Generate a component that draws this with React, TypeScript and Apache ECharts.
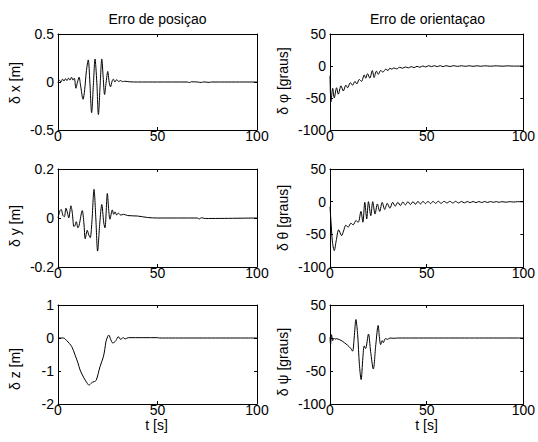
import React, { useEffect, useRef } from "react";
import * as echarts from "echarts";

// ---- data (t [s], value) ----
const dxData = [
  [0, -0.01], [0.7, 0.02], [1.5, 0.0], [2.3, 0.03], [3, 0.01], [3.8, 0.035], [4.5, 0.015], [5.3, 0.04],
  [6, 0.02], [6.8, 0.05], [7.5, 0.02], [8.2, 0.04], [9, -0.065], [9.8, 0.0], [10.6, 0.05], [11.3, -0.03],
  [12.6, -0.18], [13.4, -0.08], [14.3, 0.12], [15.2, 0.23], [16.0, 0.0], [16.9, -0.32], [17.8, -0.02],
  [18.6, 0.24], [19.5, 0.0], [20.3, -0.34], [21.2, -0.02], [22, 0.24], [22.7, 0.05], [23.4, -0.13],
  [24.2, 0.0], [25, 0.11], [25.7, 0.0], [26.4, -0.05], [27.2, 0.01], [27.8, 0.03], [28.6, 0.0],
  [29.5, 0.025], [30.5, 0.005], [31.5, 0.015], [32.5, 0.003], [33.5, 0.008], [36, 0.002], [40, 0.0],
  [50, 0.0], [65, 0.0], [66, -0.006], [67, 0.002], [70, 0.0], [72, -0.005], [73, 0.001], [76, -0.004],
  [77, 0.0], [100, 0.0],
];

const dyData = [
  [0, 0], [1, 0.03], [1.6, 0.035], [2.5, 0.01], [3.2, 0.005], [4, 0.04], [4.8, 0.02], [5.4, 0.0],
  [6.5, 0.05], [7.2, 0.02], [8, -0.035], [8.6, -0.03], [9.2, -0.015], [10, -0.04], [10.6, -0.03],
  [12.2, 0.03], [13, -0.02], [13.7, -0.085], [14.7, -0.05], [15.5, -0.07], [16.2, -0.08], [17, -0.02],
  [18.1, 0.117], [19, 0.0], [19.9, -0.135], [21, -0.02], [22, 0.055], [23, -0.02], [23.6, -0.04],
  [24.8, 0.1], [25.5, 0.03], [26.1, -0.005], [27.3, 0.033], [28, 0.015], [28.7, 0.025], [29.5, 0.012],
  [30.3, 0.02], [31.5, 0.012], [33, 0.015], [35, 0.01], [40, 0.008], [45, 0.002], [50, 0.0], [70, 0.0],
  [71, -0.004], [72, 0.001], [74, -0.002], [100, 0],
];

const dzData = [
  [0, 0], [2.7, 0], [4.4, -0.08], [6.9, -0.26], [8.6, -0.52], [10, -0.75], [11.1, -0.97], [12.5, -1.15],
  [13.6, -1.27], [14.8, -1.38], [15.6, -1.43], [16.5, -1.38], [17.3, -1.34], [18.3, -1.32], [19.2, -1.28],
  [20.2, -1.08], [21.1, -0.87], [22.8, -0.57], [23.5, -0.35], [24.1, -0.11], [25, 0.05], [25.5, 0.09],
  [26.6, -0.06], [27.5, -0.15], [28.3, -0.13], [29.1, -0.08], [30.3, 0.04], [31.5, -0.04], [32.8, 0.01],
  [33.7, -0.03], [35.3, 0.01], [50, 0.01], [51, 0], [100, 0],
];

const dPhiData = [
  [0, -15], [0.5, -56], [1.4, -35], [2.2, -50], [3.4, -34], [4.3, -44], [5.7, -31], [6.9, -39],
  [8.2, -30], [9.1, -34], [10.5, -26], [11.7, -30], [12.9, -24], [13.9, -28], [15.1, -21], [16.3, -24],
  [17.7, -14], [18.5, -19], [19.4, -12], [20.6, -19], [21.9, -7], [22.8, -18], [24, -8], [25, -13],
  [26.2, -7], [27.4, -9.5], [28.8, -5], [30, -7], [31, -3.5], [32, -5], [33, -3], [34.5, -4.5],
  [36, -2], [37.5, -3.5], [39, -1.5], [40.5, -3], [42, -1], [43.5, -2.5], [45, -0.5], [46.5, -2],
  [48, 0], [49.5, -1.5], [51, 0.5], [52.5, -1], [54, 0.5], [55.5, -1], [57, 0.5], [58.5, -1], [60, 0.5],
  [62, -0.8], [64, 0.5], [66, -0.6], [68, 0.4], [70, -0.5], [72, 0.4], [74, -0.5], [76, 0.3],
  [78, -0.4], [80, 0.3], [83, -0.3], [86, 0.3], [89, -0.3], [92, 0.2], [95, -0.2], [100, 0],
];

const dThetaData = [
  [0, -8], [0.5, -30], [1.2, -60], [2.2, -75], [3.2, -60], [4.5, -43], [6, -52], [7, -45], [8.2, -36],
  [9.4, -39], [10.8, -33], [12, -35.5], [13.4, -29], [14.6, -31.5], [16, -15], [17, -31.5], [18, -1],
  [19, -26.5], [19.9, 0], [21.1, -21.4], [22.1, 0], [23.3, -19], [24.5, -3.5], [25.7, -15], [27, -1],
  [28.3, -12], [29.6, -2.5], [31, -10], [32.4, -1], [33.7, -7], [35.1, -1], [36.4, -6], [37.7, -0.5],
  [39, -5], [40.3, 0], [41.6, -4.5], [42.9, 0], [44.2, -4], [45.5, 0.5], [46.8, -3.5], [48.1, 0.5],
  [49.4, -3], [50.7, 0.5], [52, -3], [53.3, 0.5], [54.6, -2.5], [56, 0.5], [57.5, -2.5], [59, 0.5],
  [60.5, -2], [62, 0.5], [63.5, -2], [65, 0.5], [66.5, -2], [68, 0.3], [69.5, -1.8], [71, 0.3],
  [72.5, -1.5], [74, 0.3], [75.5, -1.5], [77, 0.2], [78.5, -1.3], [80, 0.2], [81.5, -1.2], [83, 0.2],
  [84.5, -1], [86, 0.1], [87.5, -1], [89, 0], [91, -0.8], [93, 0], [95, -0.6], [97, 0], [100, -0.3],
];

const dPsiData = [
  [0, 1], [0.3, -10], [0.8, 5], [1.4, -4], [2, 0], [2.6, -2], [3.2, -1], [4, -1.5], [5.7, -3.6],
  [7.4, -7], [9.1, -11], [10.8, -16], [11.7, -20], [12.5, 0], [13.4, 28], [14.3, 5], [15.2, -40],
  [16.1, -63], [17, -30], [17.7, -12], [18.4, -16], [19.9, 6], [21, -20], [22.4, -47], [23.7, -10],
  [24.9, 19], [25.6, 0], [26.2, -10], [27, -4], [27.6, -7], [28.6, -1], [29.8, -2], [31, 0],
  [33, -0.5], [35, 0], [100, 0],
];

const titles = ["Erro de posiçao", "Erro de orientaçao"];
const yNames = ["δ x [m]", "δ y [m]", "δ z [m]", "δ φ [graus]", "δ θ [graus]", "δ ψ [graus]"];
const xName = "t [s]";
const xMin = 0;
const xMax = 100;
const xStep = 50;
const yRanges = [
  [-0.5, 0.5, 0.5],
  [-0.2, 0.2, 0.2],
  [-2, 1, 1],
  [-100, 50, 50],
  [-100, 50, 50],
  [-100, 50, 50],
];
const seriesData = [dxData, dyData, dzData, dPhiData, dThetaData, dPsiData];

// ---- layout ----
const colLeft = [58, 330];
const colWidth = [199, 195];
const rowTop = [34, 169, 305];
const rowHeight = [96, 98, 99];
const nameX = [15, 283];
const nameY = [83, 226, 369, 81, 218, 362];
const FONT = "'Liberation Sans', Arial, Helvetica, sans-serif";
const FS = 14;

export default function App() {
  const ref = useRef<HTMLDivElement>(null);
  useEffect(() => {
    if (!ref.current) return;
    const chart = echarts.init(ref.current, undefined, { renderer: "svg" });
    const grids: any[] = [];
    const xAxes: any[] = [];
    const yAxes: any[] = [];
    const series: any[] = [];
    const graphics: any[] = [];
    const lineStyle = { color: "#000", width: 1 };
    for (let i = 0; i < 6; i++) {
      const col = i < 3 ? 0 : 1;
      const row = i % 3;
      grids.push({
        left: colLeft[col],
        top: rowTop[row],
        width: colWidth[col],
        height: rowHeight[row],
        containLabel: false,
      });
      const [ymin, ymax, yint] = yRanges[i];
      const xCommon = {
        type: "value",
        gridIndex: i,
        min: xMin,
        max: xMax,
        interval: xStep,
        splitLine: { show: false },
        axisLine: { show: true, onZero: false, lineStyle },
        axisTick: { show: true, inside: true, length: 3, lineStyle },
      };
      xAxes.push({
        ...xCommon,
        position: "bottom",
        axisLabel: { show: true, margin: -1, color: "#000", fontSize: FS, fontFamily: FONT },
      });
      xAxes.push({ ...xCommon, position: "top", axisLabel: { show: false } });
      const yCommon = {
        type: "value",
        gridIndex: i,
        min: ymin,
        max: ymax,
        interval: yint,
        splitLine: { show: false },
        axisLine: { show: true, onZero: false, lineStyle },
        axisTick: { show: true, inside: true, length: 3, lineStyle },
      };
      yAxes.push({
        ...yCommon,
        position: "left",
        axisLabel: { show: true, margin: 4, color: "#000", fontSize: FS, fontFamily: FONT },
      });
      yAxes.push({ ...yCommon, position: "right", axisLabel: { show: false } });
      series.push({
        type: "line",
        xAxisIndex: 2 * i,
        yAxisIndex: 2 * i,
        data: seriesData[i],
        showSymbol: false,
        symbol: "none",
        smooth: 0.3,
        lineStyle,
        silent: true,
      });
      graphics.push({
        type: "text",
        x: nameX[col],
        y: nameY[i],
        rotation: Math.PI / 2,
        style: {
          text: yNames[i],
          fill: "#000",
          fontSize: FS,
          fontFamily: FONT,
          align: "center",
          verticalAlign: "middle",
        },
      });
    }
    for (let c = 0; c < 2; c++) {
      const cx = colLeft[c] + colWidth[c] / 2;
      graphics.push({
        type: "text",
        x: cx,
        y: 19,
        style: { text: titles[c], fill: "#000", fontSize: FS, fontFamily: FONT, align: "center", verticalAlign: "middle" },
      });
      graphics.push({
        type: "text",
        x: cx - 1,
        y: 425,
        style: { text: xName, fill: "#000", fontSize: FS, fontFamily: FONT, align: "center", verticalAlign: "middle" },
      });
    }
    chart.setOption({
      animation: false,
      backgroundColor: "#fff",
      grid: grids,
      xAxis: xAxes,
      yAxis: yAxes,
      series,
      graphic: graphics,
    });
    return () => chart.dispose();
  }, []);
  return (
    <div
      ref={ref}
      style={{ position: "fixed", left: 0, top: 0, width: 538, height: 442, background: "#fff" }}
    />
  );
}
